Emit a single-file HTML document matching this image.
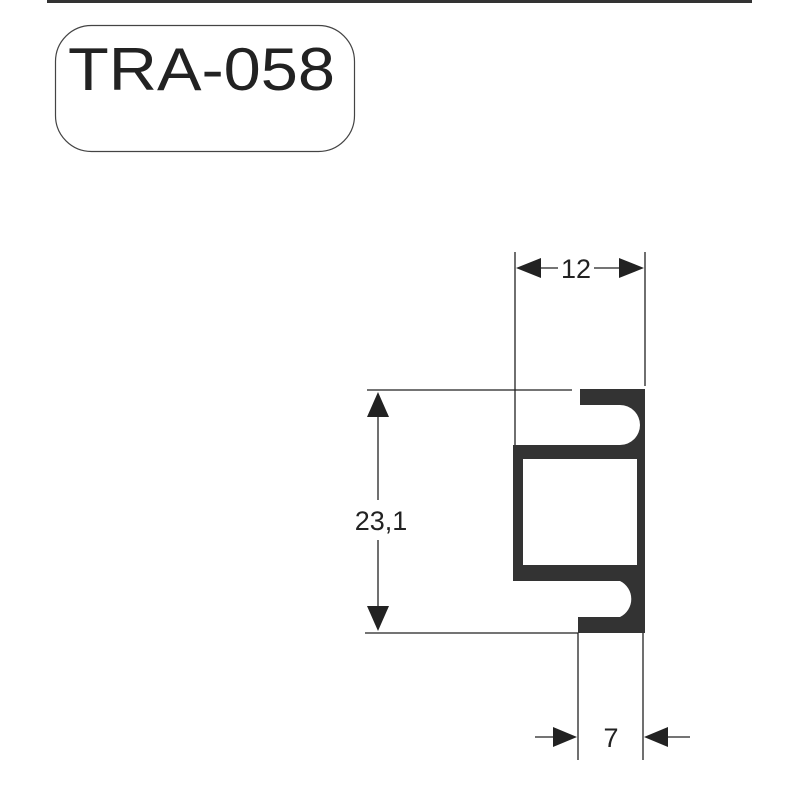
<!DOCTYPE html>
<html><head><meta charset="utf-8"><style>html,body{margin:0;padding:0;background:#fff}</style></head>
<body>
<svg width="800" height="800" viewBox="0 0 800 800" xmlns="http://www.w3.org/2000/svg" font-family="Liberation Sans, sans-serif">
<rect width="800" height="800" fill="#fff"/>
<line x1="47" y1="1.5" x2="752" y2="1.5" stroke="#333" stroke-width="3"/>
<rect x="55.5" y="25.5" width="299" height="126" rx="36" fill="none" stroke="#444" stroke-width="1.2"/>
<text x="68" y="90" font-size="60" textLength="267" lengthAdjust="spacingAndGlyphs" fill="#222">TRA-058</text>
<g stroke="#222" stroke-width="1.3" fill="none">
<line x1="515" y1="252" x2="515" y2="446"/>
<line x1="645" y1="252" x2="645" y2="386"/>
<line x1="367" y1="390" x2="572" y2="390"/>
<line x1="365" y1="633" x2="578" y2="633"/>
<line x1="578" y1="633" x2="578" y2="760"/>
<line x1="643" y1="633" x2="643" y2="760"/>
<line x1="540" y1="268" x2="558" y2="268"/>
<line x1="594" y1="268" x2="620" y2="268"/>
<line x1="378" y1="415" x2="378" y2="500"/>
<line x1="378" y1="540" x2="378" y2="610"/>
<line x1="535" y1="737" x2="555" y2="737"/>
<line x1="668" y1="737" x2="690" y2="737"/>
</g>
<g fill="#222">
<polygon points="516,268 541,258 541,278"/>
<polygon points="644,268 619,258 619,278"/>
<polygon points="378,392 367,417 389,417"/>
<polygon points="378,631 367,606 389,606"/>
<polygon points="577,737 553,727 553,747"/>
<polygon points="644,737 668,727 668,747"/>
</g>
<text x="576" y="278" font-size="27" text-anchor="middle" fill="#222">12</text>
<text x="381" y="530" font-size="27" text-anchor="middle" fill="#222">23,1</text>
<text x="611" y="747" font-size="27" text-anchor="middle" fill="#222">7</text>
<path fill="#333" fill-rule="evenodd" d="M580,389 L645,389 L645,633 L578,633 L578,617 L620,617 A20,20 0 0 0 620,581 L513,581 L513,445 L620,445 A20,20 0 0 0 620,405 L580,405 Z M523,459 L637,459 L637,565 L523,565 Z"/>
</svg>
</body></html>
